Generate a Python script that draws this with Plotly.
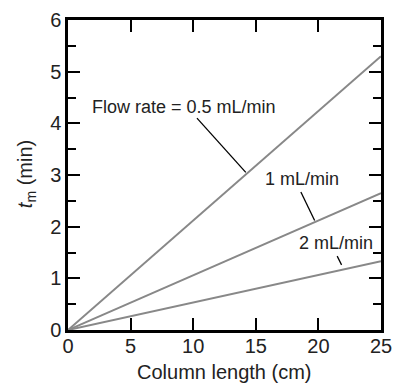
import plotly.graph_objects as go

column_length = [0, 25]
tm_05 = [0, 5.3]
tm_1 = [0, 2.65]
tm_2 = [0, 1.33]

labels = ["Flow rate = 0.5 mL/min", "1 mL/min", "2 mL/min"]
x_title = "Column length (cm)"
y_title = "<i>t</i><sub>m</sub> (min)"
# label anchor (x, y) and leader line endpoints, in data units
label_pos = [(9.3, 4.32), (18.7, 2.92), (21.4, 1.68)]
leaders = [((10.3, 4.10), (14.2, 3.05)), ((18.6, 2.67), (19.7, 2.12)), ((21.5, 1.43), (21.85, 1.26))]

fig = go.Figure()
for ys in (tm_05, tm_1, tm_2):
    fig.add_trace(go.Scatter(x=column_length, y=ys, mode="lines",
                             line=dict(color="#888888", width=2), showlegend=False))

for (x0, y0), (x1, y1) in leaders:
    fig.add_shape(type="line", x0=x0, y0=y0, x1=x1, y1=y1, xref="x", yref="y",
                  line=dict(color="black", width=1.3))

for t, (x, y) in zip(labels, label_pos):
    fig.add_annotation(x=x, y=y, text=t, showarrow=False, xref="x", yref="y",
                       font=dict(size=18, color="#222222"))

fig.add_annotation(x=0.5, y=-0.135, xref="paper", yref="paper", text=x_title,
                   showarrow=False, font=dict(size=20, color="#222222"),
                   xanchor="center", yanchor="middle")
fig.add_annotation(x=-0.134, y=0.503, xref="paper", yref="paper", text=y_title,
                   showarrow=False, textangle=-90, font=dict(size=20, color="#222222"),
                   xanchor="center", yanchor="middle")

axis_common = dict(showline=True, linecolor="black", linewidth=2.5, mirror="ticks",
                   ticks="inside", ticklen=12, tickwidth=2, tickcolor="black",
                   showgrid=False, zeroline=False, automargin=False,
                   tickfont=dict(size=20, color="#222222"))

fig.update_xaxes(range=[0, 25], tickvals=[0, 5, 10, 15, 20, 25], ticklabelstandoff=-4, **axis_common)
fig.update_yaxes(range=[0, 6], tickvals=[0, 1, 2, 3, 4, 5, 6], **axis_common,
                 minor=dict(dtick=0.5, ticks="inside", ticklen=8, tickwidth=2, tickcolor="black", showgrid=False))

# the page body adds an 8px offset, so margins are shifted to compensate
fig.update_layout(width=408, height=385, margin=dict(l=60, r=35, t=12, b=63, autoexpand=False),
                  plot_bgcolor="white", paper_bgcolor="white",
                  font=dict(family="Liberation Sans, Arial, sans-serif"))

fig.write_html("out.html")
